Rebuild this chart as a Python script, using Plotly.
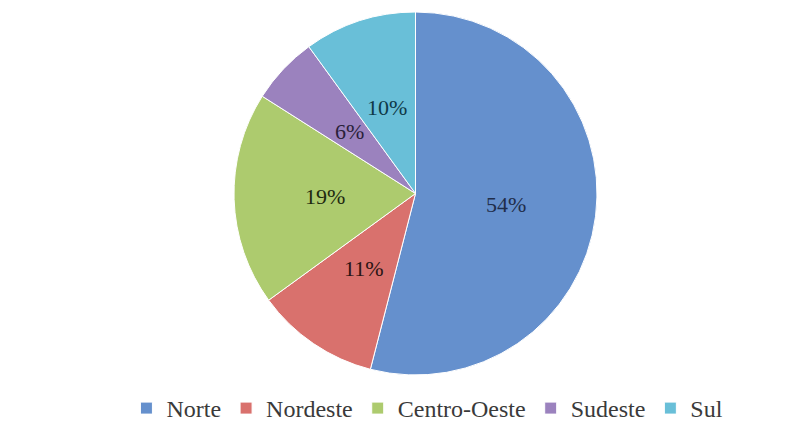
import math
import plotly.graph_objects as go

regions = ["Norte", "Nordeste", "Centro-Oeste", "Sudeste", "Sul"]
shares = [54, 11, 19, 6, 10]
colors = ["#6590CD", "#D9716D", "#ADCB6E", "#9B82BE", "#69BFD8"]
text_colors = ["#1F2D4A", "#2A1414", "#1E2A10", "#2A1F3A", "#0F3A48"]

W, H = 805, 423
M = dict(l=10, r=0, t=4, b=55)
plot_w = W - M["l"] - M["r"]
plot_h = H - M["t"] - M["b"]
radius = min(plot_w, plot_h) / 2
label_frac = 0.5

fig = go.Figure(go.Pie(
    labels=regions,
    values=shares,
    sort=False,
    direction="clockwise",
    rotation=0,
    marker=dict(colors=colors, line=dict(color="#FFFFFF", width=1)),
    textinfo="none",
    hoverinfo="label+percent",
))

# labels at half radius, at the middle angle of each slice (Excel-style)
total = sum(shares)
cum = 0
for name, v, tc in zip(regions, shares, text_colors):
    mid = (cum + v / 2) / total * 2 * math.pi
    cum += v
    dx = label_frac * radius * math.sin(mid)
    dy = label_frac * radius * math.cos(mid)
    fig.add_annotation(
        x=0.5 + dx / plot_w, y=0.5 + dy / plot_h,
        xref="paper", yref="paper",
        xanchor="center", yanchor="middle",
        text=f"{v}%", showarrow=False,
        font=dict(family="Times New Roman", size=22, color=tc),
    )

fig.update_layout(
    width=W, height=H,
    margin=M,
    paper_bgcolor="white",
    plot_bgcolor="white",
    font=dict(family="Times New Roman"),
    showlegend=True,
    legend=dict(
        orientation="h",
        x=0.515, xanchor="center",
        y=-0.03, yanchor="top",
        font=dict(family="Times New Roman", size=24, color="#3A3A3A"),
        itemwidth=30,
        tracegroupgap=0,
    ),
)

fig.write_html("out.html")
